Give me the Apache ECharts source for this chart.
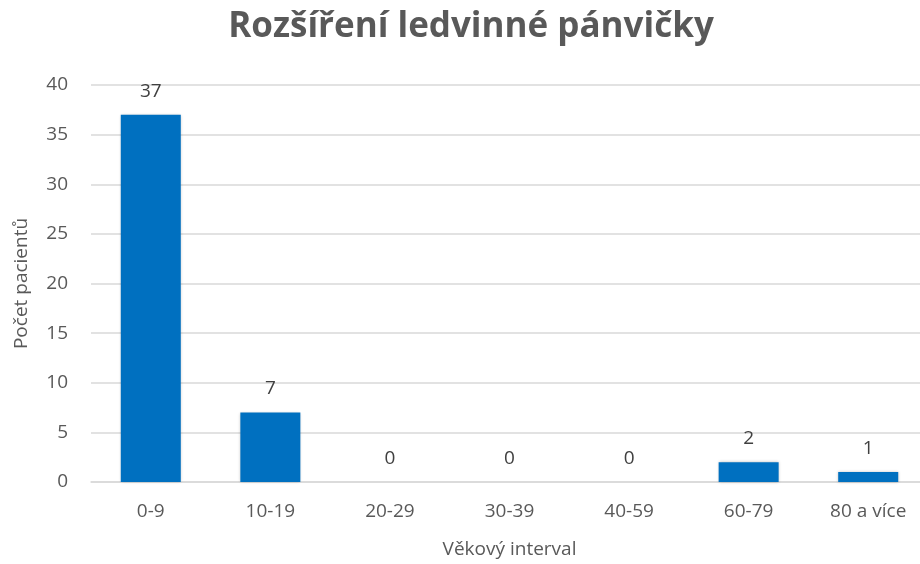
<!DOCTYPE html>
<html>
<head>
<meta charset="utf-8">
<script src="https://cdn.jsdelivr.net/npm/echarts@6/dist/echarts.min.js"></script>
<style>
  html, body { margin: 0; padding: 0; background: #fff; overflow: hidden; }
  #bar { width: 928px; height: 564px; }
</style>
</head>
<body>
<div id="bar"></div>
<script>
// data
const categories = ['0-9', '10-19', '20-29', '30-39', '40-59', '60-79', '80 a více']
const patients = [37, 7, 0, 0, 0, 2, 1]

const font = '"Open Sans", "Noto Sans", sans-serif'

// chart is a bit wider than the window: the plot area runs past the right edge
let myChart = echarts.init(document.getElementById('bar'))

let opt = {
  backgroundColor: '#fff',
  // title
  title: {
    text: 'Rozšíření ledvinné pánvičky',
    left: 466,
    textAlign: 'center',
    top: 5,
    textStyle: {
      fontFamily: font,
      fontSize: 35,
      fontWeight: 'bold',
      color: '#595959'
    }
  },
  grid: {
    left: 91,
    right: 0,
    top: 85,
    bottom: 80,
    containLabel: false
  },
  xAxis: {
    type: 'category',
    data: categories,
    name: 'Věkový interval',
    nameLocation: 'middle',
    nameGap: 58,
    nameTextStyle: { fontFamily: font, fontSize: 19, color: '#595959' },
    axisLine: { lineStyle: { color: '#d9d9d9', width: 1.5 } },
    axisTick: { show: false },
    axisLabel: { fontFamily: font, fontSize: 19, color: '#595959', margin: 20 }
  },
  yAxis: {
    type: 'value',
    min: 0,
    max: 40,
    interval: 5,
    name: 'Počet pacientů',
    nameLocation: 'middle',
    nameGap: 60,
    nameRotate: 90,
    nameTextStyle: { fontFamily: font, fontSize: 19, color: '#595959' },
    axisLine: { show: false },
    axisTick: { show: false },
    axisLabel: { fontFamily: font, fontSize: 19, color: '#595959', margin: 23 },
    splitLine: { lineStyle: { color: '#d9d9d9', width: 1.5 } }
  },
  series: [{
    name: 'Počet pacientů',
    type: 'bar',
    data: patients,
    barWidth: 60,
    itemStyle: {
      color: '#0070c0',
      shadowColor: 'rgba(0,0,0,0.25)',
      shadowBlur: 3
    },
    label: {
      show: true,
      position: 'top',
      distance: 14,
      fontFamily: font,
      fontSize: 19,
      color: '#404040'
    }
  }]
}

myChart.setOption(opt)
</script>
</body>
</html>
